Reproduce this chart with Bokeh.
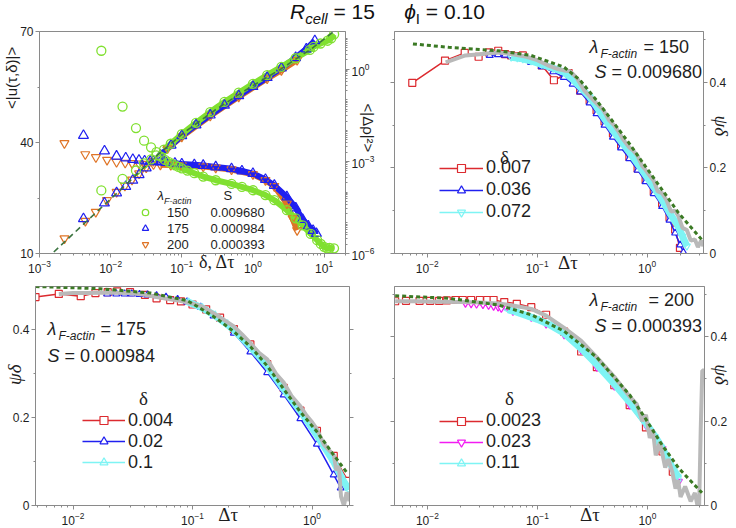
import math
from bokeh.plotting import figure
from bokeh.models import (Range1d, LogScale, LinearAxis, LogAxis, FixedTicker,
                          LogTickFormatter, CustomJSTickFormatter, Label, Legend,
                          LegendItem, Div)
from bokeh.layouts import column, row
from bokeh.embed import file_html
from bokeh.resources import INLINE

# ======================= DATA =======================
# ---- top-left: <|u(tau,delta)|> vs delta (left, linear axis)
tl_d150 = [0.0074, 0.0147, 0.0227, 0.0295, 0.037, 0.044, 0.051, 0.058, 0.066, 0.073, 0.081, 0.09,
           0.1, 0.12, 0.15, 0.2, 0.3, 0.5, 0.7, 1.0, 1.5, 2.0, 3.0, 4.0, 5.0, 6.5, 8.0, 9.0, 10.0,
           11.0, 12.0, 13.8]
tl_u150 = [64.8, 49.7, 43.9, 40.5, 38.7, 37.4, 36.2, 35.3, 34.7, 34.2, 33.8, 33.4,
           33.0, 32.4, 31.7, 30.8, 29.8, 28.8, 28.0, 27.1, 25.8, 24.4, 21.7, 19.5, 17.6, 15.3, 13.6,
           12.6, 11.8, 11.4, 11.5, 11.4]
tl_d175 = [0.00415, 0.0082, 0.0121, 0.0163, 0.0205, 0.025, 0.03, 0.036, 0.043, 0.05, 0.06, 0.08,
           0.1, 0.15, 0.2, 0.3, 0.5, 0.7, 1.0, 1.5, 2.0, 3.0, 4.0, 5.0, 6.0, 7.0, 7.8]
tl_u175 = [41.9, 37.7, 36.3, 35.8, 35.4, 35.2, 35.0, 34.9, 34.8, 34.7, 34.6, 34.4,
           34.2, 34.0, 33.8, 33.4, 32.9, 32.3, 31.6, 30.0, 28.4, 25.3, 22.3, 19.2, 17.4, 16.2, 15.4]
tl_d200 = [0.00224, 0.0044, 0.0062, 0.0089, 0.0121, 0.016, 0.02, 0.025, 0.03, 0.04, 0.05, 0.07,
           0.1, 0.2, 0.3, 0.5, 1.0, 1.5, 2.0, 3.0, 3.6, 4.18]
tl_u200 = [39.8, 36.8, 36.0, 35.3, 34.7, 34.5, 34.4, 34.3, 34.2, 34.1, 34.0, 33.9,
           33.8, 33.5, 33.2, 32.7, 31.4, 29.8, 28.2, 23.5, 19.5, 16.3]
# ---- top-left: <|d rho|^2> vs delta tau (right, log axis)
tl_t150 = [0.0074, 0.01469, 0.0227, 0.02951, 0.03698, 0.04395, 0.05623, 0.06998, 0.1, 0.1585,
           0.2512, 0.3981, 0.631, 1.0, 1.585, 2.512, 3.981, 6.31, 7.079, 8.913, 11.22, 12.59, 13.84]
tl_m150 = [1.122e-4, 2.692e-4, 5.012e-4, 8.511e-4, 1.148e-3, 1.549e-3, 2.399e-3, 3.715e-3,
           7.586e-3, 1.778e-2, 3.981e-2, 8.511e-2, 0.1698, 0.3311, 0.631, 1.175, 2.239, 4.169,
           5.248, 6.761, 8.318, 10.0, 13.49]
tl_t175 = [0.00415, 0.008185, 0.01213, 0.01629, 0.02046, 0.02512, 0.03162, 0.03981, 0.05012,
           0.07079, 0.1, 0.1585, 0.2512, 0.3981, 0.631, 1.0, 1.585, 2.512, 3.981, 5.623, 7.413]
tl_m175 = [1.349e-5, 4.365e-5, 9.333e-5, 1.514e-4, 2.399e-4, 3.631e-4, 6.026e-4, 1.0e-3,
           1.585e-3, 3.311e-3, 6.761e-3, 1.514e-2, 3.162e-2, 6.607e-2, 0.1349, 0.2692, 0.5248,
           1.072, 2.344, 4.467, 8.318]
tl_t200 = [0.002244, 0.004416, 0.00618, 0.008872, 0.01213, 0.01585, 0.01995, 0.02512, 0.03162,
           0.03981, 0.0631, 0.1, 0.2512, 0.631, 1.585, 2.512, 4.178]
tl_m200 = [3.09e-6, 1.148e-5, 2.239e-5, 5.37e-5, 1.0e-4, 1.585e-4, 2.512e-4, 3.981e-4, 6.31e-4,
           1.023e-3, 2.63e-3, 6.31e-3, 3.02e-2, 0.1259, 0.4898, 0.912, 1.95]
tl_fit_t = [0.001589, 0.004753, 0.01349, 0.03828, 0.1084, 0.3083, 0.875, 2.477, 7.047, 13.18]
tl_fit_m = [1.122e-6, 1.202e-5, 1.122e-4, 1.122e-3, 8.71e-3, 5.012e-2, 0.2399, 1.0, 5.012, 15.49]
tl_lambda = ["150", "175", "200"]
tl_S = ["0.009680", "0.000984", "0.000393"]
tl_u_ticks = [10, 40, 70]

# ---- top-right: lambda = 150
tr_fit_x = [0.0074, 0.0157, 0.0442, 0.088, 0.175, 0.246, 0.347, 0.489, 0.69, 0.97, 1.37, 1.93, 3.13]
tr_fit_y = [0.490, 0.482, 0.474, 0.463, 0.436, 0.405, 0.358, 0.308, 0.257, 0.203, 0.149, 0.095, 0.033]
tr_r_x = [0.0073, 0.0145, 0.0219, 0.0293, 0.0365, 0.0442, 0.051, 0.058, 0.066, 0.074, 0.088, 0.11,
          0.142, 0.193, 0.246, 0.30, 0.347, 0.41, 0.489, 0.58, 0.69, 0.82, 0.97, 1.15, 1.37, 1.6,
          1.8, 1.99]
tr_r_y = [0.399, 0.451, 0.469, 0.460, 0.470, 0.474, 0.466, 0.463, 0.461, 0.463, 0.452, 0.440,
          0.405, 0.422, 0.381, 0.358, 0.335, 0.309, 0.281, 0.254, 0.226, 0.199, 0.172, 0.145,
          0.118, 0.085, 0.056, 0.013]
tr_b_x = [0.037, 0.044, 0.051, 0.058, 0.066, 0.074, 0.088, 0.11, 0.14, 0.175, 0.21, 0.246, 0.30,
          0.347, 0.41, 0.489, 0.58, 0.69, 0.82, 0.97, 1.15, 1.37, 1.6, 1.8, 2.0, 2.14]
tr_b_y = [0.463, 0.465, 0.464, 0.462, 0.458, 0.455, 0.447, 0.437, 0.425, 0.412, 0.396, 0.378,
          0.352, 0.327, 0.300, 0.272, 0.247, 0.222, 0.195, 0.168, 0.140, 0.110, 0.078, 0.048,
          0.020, 0.003]
tr_c_x = [0.058, 0.066, 0.074, 0.088, 0.11, 0.14, 0.175, 0.21, 0.246, 0.30, 0.347, 0.41, 0.489,
          0.58, 0.69, 0.82, 0.97, 1.15, 1.37, 1.6, 1.93, 2.1, 2.30]
tr_c_y = [0.459, 0.457, 0.455, 0.450, 0.442, 0.433, 0.424, 0.407, 0.389, 0.366, 0.343, 0.315,
          0.287, 0.262, 0.237, 0.210, 0.183, 0.155, 0.125, 0.095, 0.062, 0.040, 0.017]
tr_g_x = [0.0147, 0.0222, 0.03, 0.044, 0.06, 0.08, 0.1, 0.125, 0.15, 0.175, 0.199, 0.23, 0.27,
          0.30, 0.347, 0.40, 0.45, 0.50, 0.55, 0.60, 0.69, 0.75, 0.82, 0.90, 0.97, 1.05, 1.15,
          1.25, 1.37, 1.5, 1.65, 1.8, 1.93, 2.1, 2.3, 2.5, 2.72, 2.9, 3.1, 3.26]
tr_g_y = [0.447, 0.463, 0.466, 0.470, 0.466, 0.460, 0.452, 0.440, 0.432, 0.428, 0.426, 0.410,
          0.380, 0.368, 0.351, 0.335, 0.312, 0.300, 0.285, 0.268, 0.248, 0.240, 0.228, 0.205,
          0.195, 0.183, 0.170, 0.145, 0.141, 0.125, 0.098, 0.100, 0.087, 0.060, 0.055, 0.030,
          0.033, 0.015, 0.030, 0.017]
tr_deltas = ["0.007", "0.036", "0.072"]

# ---- bottom-left: lambda = 175
bl_fit_x = [0.00485, 0.0169, 0.0446, 0.090, 0.117, 0.161, 0.222, 0.305, 0.422, 0.58, 0.80, 1.10,
            1.52, 1.97]
bl_fit_y = [0.499, 0.494, 0.484, 0.467, 0.449, 0.425, 0.396, 0.362, 0.318, 0.265, 0.213, 0.168,
            0.115, 0.074]
bl_r_x = [0.00485, 0.0076, 0.0116, 0.0154, 0.0195, 0.0234, 0.03, 0.04, 0.05, 0.065, 0.08, 0.1,
          0.13, 0.17, 0.222, 0.305, 0.422, 0.58, 0.80, 1.10, 1.52, 2.0]
bl_r_y = [0.475, 0.482, 0.477, 0.484, 0.486, 0.488, 0.486, 0.480, 0.472, 0.468, 0.465, 0.458,
          0.447, 0.428, 0.402, 0.367, 0.322, 0.268, 0.216, 0.170, 0.113, 0.056]
bl_b_x = [0.0193, 0.023, 0.027, 0.031, 0.036, 0.042, 0.05, 0.06, 0.075, 0.09, 0.117, 0.15, 0.222,
          0.305, 0.422, 0.58, 0.80, 1.10, 1.52, 1.74]
bl_b_y = [0.482, 0.482, 0.482, 0.482, 0.481, 0.480, 0.478, 0.475, 0.470, 0.464, 0.452, 0.432,
          0.393, 0.350, 0.303, 0.252, 0.198, 0.140, 0.070, 0.040]
bl_c_x = [0.09, 0.117, 0.15, 0.19, 0.222, 0.305, 0.422, 0.58, 0.80, 1.10, 1.52, 1.8, 2.03]
bl_c_y = [0.465, 0.452, 0.435, 0.415, 0.400, 0.362, 0.318, 0.265, 0.215, 0.160, 0.100, 0.060, 0.036]
bl_g_x = [0.0076, 0.01, 0.013, 0.017, 0.022, 0.03, 0.04, 0.05, 0.065, 0.08, 0.1, 0.117, 0.15,
          0.19, 0.222, 0.26, 0.305, 0.36, 0.422, 0.5, 0.58, 0.68, 0.80, 0.9, 1.0, 1.1, 1.25, 1.4,
          1.52, 1.6, 1.68, 1.75, 1.85, 1.95, 2.06]
bl_g_y = [0.482, 0.484, 0.484, 0.485, 0.485, 0.484, 0.480, 0.475, 0.470, 0.466, 0.460, 0.455,
          0.438, 0.420, 0.408, 0.390, 0.370, 0.348, 0.333, 0.300, 0.280, 0.248, 0.226, 0.205,
          0.190, 0.174, 0.140, 0.125, 0.115, 0.080, 0.090, 0.020, 0.000, 0.030, 0.010]
bl_deltas = ["0.004", "0.02", "0.1"]

# ---- bottom-right: lambda = 200
br_fit_x = [0.0051, 0.0157, 0.0442, 0.088, 0.175, 0.347, 0.69, 0.97, 1.37, 1.93, 3.13]
br_fit_y = [0.497, 0.491, 0.475, 0.452, 0.413, 0.351, 0.262, 0.204, 0.142, 0.088, 0.030]
br_r_x = [0.0051, 0.0064, 0.0085, 0.0106, 0.0128, 0.015, 0.018, 0.021, 0.025, 0.03, 0.035, 0.040,
          0.05, 0.065, 0.088, 0.12, 0.175, 0.25, 0.347, 0.5, 0.69, 0.97, 1.37, 1.7]
br_r_y = [0.484, 0.485, 0.485, 0.485, 0.485, 0.486, 0.487, 0.487, 0.487, 0.487, 0.487, 0.487,
          0.482, 0.478, 0.470, 0.452, 0.412, 0.365, 0.328, 0.285, 0.238, 0.185, 0.128, 0.080]
br_m_x = [0.0222, 0.025, 0.028, 0.032, 0.036, 0.040, 0.044, 0.047, 0.06, 0.088, 0.12, 0.175,
          0.25, 0.347, 0.5, 0.69, 0.97, 1.37, 1.7, 1.93]
br_m_y = [0.479, 0.478, 0.477, 0.476, 0.474, 0.472, 0.470, 0.467, 0.460, 0.446, 0.430, 0.404,
          0.368, 0.327, 0.283, 0.238, 0.190, 0.135, 0.085, 0.057]
br_c_x = [0.054, 0.065, 0.08, 0.1, 0.13, 0.175, 0.25, 0.347, 0.5, 0.69, 0.97, 1.2, 1.37, 1.6, 1.93]
br_c_y = [0.464, 0.458, 0.450, 0.441, 0.428, 0.408, 0.372, 0.334, 0.288, 0.245, 0.195, 0.160,
          0.135, 0.100, 0.065]
br_g_x = [0.0051, 0.008, 0.012, 0.02, 0.03, 0.0442, 0.06, 0.088, 0.12, 0.175, 0.25, 0.347, 0.5,
          0.69, 0.8, 0.9, 0.97, 1.05, 1.12, 1.19, 1.3, 1.45, 1.55, 1.68, 1.8, 1.9, 2.0, 2.2, 2.47,
          2.7, 2.85, 2.95, 3.05, 3.15, 3.3]
br_g_y = [0.484, 0.484, 0.483, 0.482, 0.481, 0.479, 0.474, 0.466, 0.450, 0.421, 0.390, 0.351,
          0.305, 0.258, 0.240, 0.200, 0.215, 0.160, 0.180, 0.119, 0.150, 0.090, 0.110, 0.080,
          0.040, 0.060, 0.020, 0.045, 0.010, 0.030, 0.0, 0.0, 0.18, 0.32, 0.32]
br_deltas = ["0.0023", "0.023", "0.11"]

psi_ticks = [0.0, 0.2, 0.4]
psi_minor = [0.1, 0.3, 0.5]

# ======================= STYLE =======================
AX = "#8a8a8a"
TXT = "#1e1e1e"
SANS = "Liberation Sans"
SERIF = "Liberation Serif"
RED = "#dc2a2f"
BLUE = "#2020f0"
CYAN = "#7ef4f4"
GRAY = "#b9b9b9"
FIT = "#3b7a24"
LIME = "#80e030"
ORANGE = "#df7426"
MAGENTA = "#f21cf2"
DASH = "#3c7440"
NB = "\u00a0"


def minors(e0, e1):
    return [k * 10.0 ** e for e in range(e0, e1 + 1) for k in range(2, 10)]


def style_axis(ax, show=True):
    ax.axis_line_color = AX
    ax.major_tick_line_color = AX
    ax.minor_tick_line_color = AX
    ax.major_tick_in = 0
    ax.major_tick_out = 4
    ax.minor_tick_in = 0
    ax.minor_tick_out = 2
    ax.major_label_text_font = SANS
    ax.major_label_text_font_size = "12px"
    ax.major_label_text_color = TXT
    ax.major_label_standoff = 2
    if not show:
        ax.formatter = CustomJSTickFormatter(code="return '';")
        ax.major_label_standoff = 0


def axis_title(ax, text, font, size, style, standoff):
    ax.axis_label = text
    ax.axis_label_text_font = font
    ax.axis_label_text_font_size = f"{size}px"
    ax.axis_label_text_font_style = style
    ax.axis_label_text_color = TXT
    ax.axis_label_standoff = standoff


def make_fig(w, h, xr, yr, borders, yloc):
    bl, br, bt, bb = borders
    p = figure(width=w, height=h, x_axis_type="log", x_range=Range1d(*xr), y_range=Range1d(*yr),
               y_axis_location=yloc, output_backend="svg", toolbar_location=None,
               min_border_left=bl, min_border_right=br, min_border_top=bt, min_border_bottom=bb)
    p.xgrid.visible = False
    p.ygrid.visible = False
    p.outline_line_color = AX
    p.outline_line_width = 1
    p.background_fill_color = "white"
    p.border_fill_color = "white"
    return p


class Frame:
    """maps positions measured on the reference picture to frame screen units"""
    def __init__(self, ref):
        self.L, self.T, self.R, self.B = ref

    def x(self, px):
        return px - self.L

    def y(self, py):
        return self.B - py


def lab(p, fr, text, px, py, size, font=SANS, style="normal", align="left", baseline="middle"):
    p.add_layout(Label(x=fr.x(px), y=fr.y(py), x_units="screen", y_units="screen", text=text,
                       text_font=font, text_font_size=f"{size}px", text_font_style=style,
                       text_align=align, text_baseline=baseline, text_color=TXT))


def band(p, x, y, xmin, color, width, **kw):
    xs = [a for a in x if a >= xmin]
    ys = [b for a, b in zip(x, y) if a >= xmin]
    return p.line(xs, ys, line_color=color, line_width=width, **kw)


def make_legend(p, items, loc, gw, gh, lh, sp, so, fs):
    lg = Legend(items=items, location=loc, orientation="vertical", glyph_width=gw,
                glyph_height=gh, label_height=lh, spacing=sp, label_standoff=so, padding=0,
                margin=0, border_line_alpha=0, background_fill_alpha=0,
                label_text_font=SANS, label_text_font_size=f"{fs}px", label_text_color=TXT)
    p.add_layout(lg)


X_MINOR = minors(-3, 1)

# ======================= TOP-LEFT =======================
fr1 = Frame((34, 31, 350, 254))
p1 = make_fig(380, 250, (1e-3, 20), (10, 70), (34, 30, 6, 21), "left")
p1_x = p1.xaxis[0]
p1_y = p1.yaxis[0]
p1_x.ticker = FixedTicker(ticks=[1e-3, 1e-2, 1e-1, 1e0, 1e1], minor_ticks=X_MINOR)
p1_y.ticker = FixedTicker(ticks=tl_u_ticks, minor_ticks=[25, 55])
style_axis(p1_x)
style_axis(p1_y)
p1.extra_y_ranges = {"msd": Range1d(1e-6, 16.6)}
p1.extra_y_scales = {"msd": LogScale()}
rax = LogAxis(y_range_name="msd",
              ticker=FixedTicker(ticks=[1e-6, 1e-3, 1e0],
                                 minor_ticks=[1e-5, 1e-4, 1e-2, 1e-1, 1e1] + minors(-6, 1)),
              formatter=LogTickFormatter())
style_axis(rax)
p1.add_layout(rax, "right")
axis_title(p1_y, NB * 31 + "<|u(\u03c4,\u03b4)|>", SANS, 15, "normal", -3)
axis_title(rax, "<|\u0394\u03c1|\u00b2>" + NB * 7, SANS, 15, "normal", -17)
axis_title(p1_x, NB * 11 + "\u03b4, \u0394\u03c4", SERIF, 18, "normal", -24)

for d, u, col in ((tl_d200, tl_u200, ORANGE), (tl_d175, tl_u175, BLUE), (tl_d150, tl_u150, LIME)):
    band(p1, d, u, 0.05, col, 6)
for t, m, col in ((tl_t200, tl_m200, ORANGE), (tl_t175, tl_m175, BLUE), (tl_t150, tl_m150, LIME)):
    band(p1, t, m, 0.045, col, 6, y_range_name="msd")

s200 = p1.scatter(tl_d200, tl_u200, marker="inverted_triangle", size=9, line_color=ORANGE,
                  fill_color=None, line_width=1.2)
p1.scatter(tl_t200, tl_m200, marker="inverted_triangle", size=9, line_color=ORANGE,
           fill_color=None, line_width=1.2, y_range_name="msd")
s175 = p1.scatter(tl_d175, tl_u175, marker="triangle", size=10, line_color=BLUE,
                  fill_color=None, line_width=1.2)
p1.scatter(tl_t175, tl_m175, marker="triangle", size=10, line_color=BLUE,
           fill_color=None, line_width=1.2, y_range_name="msd")
s150 = p1.scatter(tl_d150, tl_u150, marker="circle", size=9, line_color=LIME,
                  fill_color=None, line_width=1.3)
p1.scatter(tl_t150, tl_m150, marker="circle", size=9, line_color=LIME,
           fill_color=None, line_width=1.3, y_range_name="msd")
p1.line(tl_fit_t, tl_fit_m, line_color=DASH, line_width=1.6, line_dash="6 4", y_range_name="msd")

make_legend(p1, [LegendItem(label=tl_lambda[0], renderers=[s150]),
                 LegendItem(label=tl_lambda[1], renderers=[s175]),
                 LegendItem(label=tl_lambda[2], renderers=[s200])],
            (fr1.x(132), fr1.y(253.3)), 16, 16, 15, 0, 14, 13)
lab(p1, fr1, "\u03bb", 152, 196, 13, style="italic")
lab(p1, fr1, "F-actin", 158.5, 201, 9, style="italic")
lab(p1, fr1, "S", 218, 196, 13)
for i, s in enumerate(tl_S):
    lab(p1, fr1, s, 205, 213.3 + 16 * i, 13)


# ======================= helpers for psi panels =======================
def psi_panel(w, h, xr, yr, borders, yloc, mirror_side):
    p = make_fig(w, h, xr, yr, borders, yloc)
    xa = p.xaxis[0]
    ya = p.yaxis[0]
    xa.ticker = FixedTicker(ticks=[1e-2, 1e-1, 1e0], minor_ticks=X_MINOR)
    ya.ticker = FixedTicker(ticks=psi_ticks, minor_ticks=psi_minor)
    style_axis(xa)
    style_axis(ya)
    m = LinearAxis(ticker=FixedTicker(ticks=psi_ticks, minor_ticks=psi_minor))
    style_axis(m, show=False)
    p.add_layout(m, mirror_side)
    return p, xa, ya


def psi_series(p, sets):
    # sets: list of (x, y, color, marker, marker angle, thick band?)
    rends = []
    for x, y, col, mk, ang, is_band in sets:
        if is_band:
            band(p, x, y, 0.0, col, 7)
        ln = p.line(x, y, line_color=col, line_width=1.5)
        sc = p.scatter(x, y, marker=mk, size=7, angle=ang, line_color=col,
                       fill_color=(None if is_band else "white"), line_width=1.2)
        rends.append([ln, sc])
    return rends


def panel_text(p, fr, lam, s, lam_xy, s_xy, lam_eq_x, big=18):
    lx, ly = lam_xy
    lab(p, fr, "\u03bb", lx, ly, big, style="italic")
    lab(p, fr, "F-actin", lx + 11, ly + 7, 12, style="italic")
    lab(p, fr, "= " + lam, lam_eq_x, ly, big)
    sx, sy = s_xy
    lab(p, fr, "S", sx, sy, big, style="italic")
    lab(p, fr, "= " + s, sx + 17, sy, big)


PSI = "\u03c8\u03b4"

# ======================= TOP-RIGHT =======================
fr2 = Frame((394, 31, 708, 254))
p2, p2_x, p2_y = psi_panel(355, 250, (0.00503, 3.26), (0, 0.519), (14, 27, 6, 21), "right", "left")
r2 = psi_series(p2, [(tr_r_x, tr_r_y, RED, "square", 0.0, False),
                     (tr_b_x, tr_b_y, BLUE, "triangle", 0.0, False),
                     (tr_c_x, tr_c_y, CYAN, "inverted_triangle", 0.0, True)])
p2.line(tr_g_x, tr_g_y, line_color=GRAY, line_width=4)
p2.line(tr_fit_x, tr_fit_y, line_color=FIT, line_width=3, line_dash="4 3")
make_legend(p2, [LegendItem(label=tr_deltas[i], renderers=r2[i]) for i in range(3)],
            (fr2.x(439), fr2.y(223)), 44, 20, 20, 1, 3, 18)
lab(p2, fr2, "\u03b4", 504, 158, 19, font=SERIF, align="center")
panel_text(p2, fr2, tl_lambda[0], tl_S[0], (589, 47.5), (594, 72.5), 643)
axis_title(p2_x, NB * 8 + "\u0394\u03c4", SERIF, 19, "normal", -24)
axis_title(p2_y, PSI + NB * 7, SERIF, 19, "italic", -18)

# ======================= BOTTOM-LEFT =======================
fr3 = Frame((35, 286, 349, 508))
p3, p3_x, p3_y = psi_panel(380, 252, (0.00485, 2.06), (0, 0.499), (35, 31, 11, 19), "left", "right")
r3 = psi_series(p3, [(bl_r_x, bl_r_y, RED, "square", 0.0, False),
                     (bl_b_x, bl_b_y, BLUE, "triangle", 0.0, False),
                     (bl_c_x, bl_c_y, CYAN, "triangle", math.pi / 2, True)])
p3.line(bl_g_x, bl_g_y, line_color=GRAY, line_width=4)
p3.line(bl_fit_x, bl_fit_y, line_color=FIT, line_width=3, line_dash="4 3")
make_legend(p3, [LegendItem(label=bl_deltas[i], renderers=r3[i]) for i in range(3)],
            (fr3.x(82), fr3.y(475.7)), 43, 20, 20, 0, 3, 18)
lab(p3, fr3, "\u03b4", 143, 401, 19, font=SERIF, align="center")
panel_text(p3, fr3, tl_lambda[1], tl_S[1], (47, 331), (47, 358), 100)
axis_title(p3_x, NB * 15 + "\u0394\u03c4", SERIF, 19, "normal", -24)
axis_title(p3_y, NB * 9 + PSI, SERIF, 19, "italic", -15)

# ======================= BOTTOM-RIGHT =======================
fr4 = Frame((394, 285, 709, 508))
p4, p4_x, p4_y = psi_panel(355, 252, (0.00503, 3.3), (0, 0.519), (14, 26, 10, 19), "right", "left")
r4 = psi_series(p4, [(br_r_x, br_r_y, RED, "square", 0.0, False),
                     (br_m_x, br_m_y, MAGENTA, "inverted_triangle", 0.0, False),
                     (br_c_x, br_c_y, CYAN, "triangle", math.pi / 2, True)])
p4.line(br_g_x, br_g_y, line_color=GRAY, line_width=4)
p4.line(br_fit_x, br_fit_y, line_color=FIT, line_width=3, line_dash="4 3")
make_legend(p4, [LegendItem(label=br_deltas[i], renderers=r4[i]) for i in range(3)],
            (fr4.x(439), fr4.y(476)), 44, 20, 20, 0, 3, 18)
lab(p4, fr4, "\u03b4", 509, 401, 19, font=SERIF, align="center")
panel_text(p4, fr4, tl_lambda[2], tl_S[2], (589, 302), (594, 328), 648)
axis_title(p4_x, NB * 17 + "\u0394\u03c4", SERIF, 19, "normal", -24)
axis_title(p4_y, PSI + NB * 9, SERIF, 19, "italic", -19)

# ======================= TITLE + LAYOUT =======================
title_html = ('<div style="width:735px;height:25px;box-sizing:border-box;padding-left:290px;'
              'text-align:left;font-family:\'Liberation Sans\',Arial,sans-serif;font-size:21px;'
              'line-height:24px;color:#111;white-space:nowrap;">'
              '<i>R</i><sub style="font-size:15px;"><i>cell</i></sub> = 15&nbsp;&nbsp;&nbsp;&nbsp;&nbsp;'
              '<i>&#981;</i><sub style="font-size:15px;">I</sub> = 0.10</div>')
title = Div(text=title_html, width=735, height=25, margin=0)

layout = column(title, row(p1, p2, spacing=0), row(p3, p4, spacing=0), spacing=0)
open("out.html", "w").write(file_html(layout, INLINE))
